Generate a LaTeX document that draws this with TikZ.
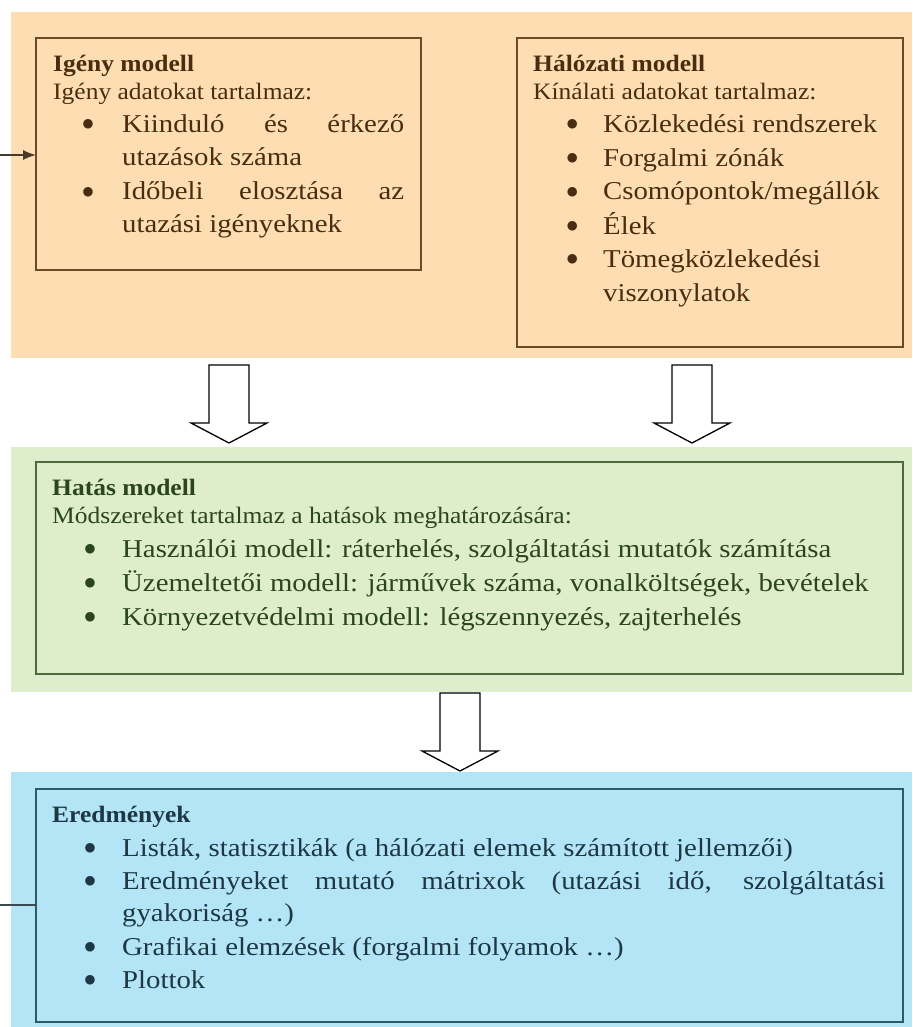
\documentclass[tikz,border=0pt]{standalone}
\usepackage{fontspec}
\setmainfont{Liberation Serif}
\newfontfamily\headfont{Liberation Serif}[FakeStretch=1.085]
\newfontfamily\bodyfont{Liberation Serif}[FakeStretch=1.12]
\newfontfamily\dotfont{DejaVu Sans}
\usetikzlibrary{arrows.meta}

\definecolor{orangeband}{HTML}{FDDEB2}
\definecolor{orangeline}{HTML}{6E4A24}
\definecolor{orangetext}{HTML}{4A2C10}
\definecolor{greenband}{HTML}{DEEDCB}
\definecolor{greenline}{HTML}{4D6A3B}
\definecolor{greentext}{HTML}{2A4520}
\definecolor{blueband}{HTML}{B3E5F6}
\definecolor{blueline}{HTML}{2D5A6A}
\definecolor{bluetext}{HTML}{1D3744}
\definecolor{inarrow}{HTML}{4A3A2A}
\definecolor{inline}{HTML}{3A4A52}

% round bullet hanging to the left of an item's first line, #1 = distance
% from the bullet's centre to the start of the text
\newcommand\bul[1]{\llap{\makebox[0pt]{\raisebox{5pt}{\dotfont\fontsize{12.5}{12.5}\selectfont ●}}\hspace{#1}}}

\begin{document}
\begin{tikzpicture}[x=1pt,y=-1pt,
  band/.style={anchor=north west, inner sep=0pt, outer sep=0pt, draw=none},
  framebox/.style={anchor=north west, inner sep=0pt, outer sep=0pt, draw, line width=1.5pt},
  txt/.style={anchor=base west, inner sep=0pt},
  hd/.style={txt, font=\fontsize{23.5}{28}\headfont\bfseries},
  intro/.style={txt, font=\fontsize{23.5}{28}\headfont},
  itm/.style={txt, font=\fontsize{25.7}{33}\bodyfont},
  blockarrow/.pic={
    \draw[line width=1.3pt, fill=white, line join=miter]
      (-20,0) -- (-20,58) -- (-38,58) -- (0,78) -- (38,58) -- (20,58) -- (20,0) -- cycle;
  }]
\useasboundingbox (0,0) rectangle (912,1027);

% coloured bands
\node[band, fill=orangeband, minimum width=901pt, minimum height=346pt] (topband) at (11,12) {};
\node[band, fill=greenband, minimum width=901pt, minimum height=245pt] (midband) at (11,447) {};
\node[band, fill=blueband, minimum width=901pt, minimum height=255pt] (botband) at (11,772) {};

% framed boxes
\node[framebox, draw=orangeline, minimum width=385pt, minimum height=232pt] (demand) at (36,38) {};
\node[framebox, draw=orangeline, minimum width=386pt, minimum height=309pt] (network) at (517,38) {};
\node[framebox, draw=greenline, minimum width=867pt, minimum height=212pt] (impact) at (36,462) {};
\node[framebox, draw=blueline, minimum width=867pt, minimum height=233pt] (results) at (36,789) {};

% incoming lines on the left
\coordinate (demandin) at (0,155);
\draw[line width=1.3pt, inarrow, -{Latex[length=13pt,width=10pt]}] (demandin) -- (demandin -| demand.west);
\coordinate (resultsin) at (0,905);
\draw[line width=1.5pt, inline] (resultsin) -- (resultsin -| results.west);

% hollow block arrows between the stages
\pic (arrowdemand) at (229,365) {blockarrow};
\pic (arrownetwork) at (692,365) {blockarrow};
\pic (arrowimpact) at (460,693) {blockarrow};

% demand model
\begin{scope}[orangetext]
\node[hd] (demandtitle) at (53,72) {Igény modell};
\node[intro] (demandintro) at (53,100) {Igény adatokat tartalmaz:};
\node[itm] (demanda1) at (122,133) {\bul{34pt}\makebox[282pt][s]{Kiinduló és érkező}};
\node[itm] (demanda2) at (122,166) {utazások száma};
\node[itm] (demandb1) at (122,200) {\bul{34pt}\makebox[282pt][s]{Időbeli elosztása az}};
\node[itm] (demandb2) at (122,232) {utazási igényeknek};

% network model
\node[hd] (nettitle) at (533,72) {Hálózati modell};
\node[intro] (netintro) at (533,100) {Kínálati adatokat tartalmaz:};
\node[itm] (neta) at (603,133) {\bul{31pt}Közlekedési rendszerek};
\node[itm] (netb) at (603,167) {\bul{31pt}Forgalmi zónák};
\node[itm] (netc) at (603,200) {\bul{31pt}Csomópontok/megállók};
\node[itm] (netd) at (603,234) {\bul{31pt}Élek};
\node[itm] (nete1) at (603,267) {\bul{31pt}Tömegközlekedési};
\node[itm] (nete2) at (603,301) {viszonylatok};
\end{scope}

% impact model
\begin{scope}[greentext]
\node[hd] (imptitle) at (52,495) {Hatás modell};
\node[intro] (impintro) at (52,523) {Módszereket tartalmaz a hatások meghatározására:};
\node[itm] (impa) at (122,557) {\bul{32pt}Használói modell: ráterhelés, szolgáltatási mutatók számítása};
\node[itm] (impb) at (122,591) {\bul{32pt}Üzemeltetői modell: járművek száma, vonalköltségek, bevételek};
\node[itm] (impc) at (122,625) {\bul{32pt}Környezetvédelmi modell: légszennyezés, zajterhelés};
\end{scope}

% results
\begin{scope}[bluetext]
\node[hd] (restitle) at (52,822) {Eredmények};
\node[itm] (resa) at (122,856) {\bul{32pt}Listák, statisztikák (a hálózati elemek számított jellemzői)};
\node[itm] (resb1) at (122,889) {\bul{32pt}\makebox[763pt][s]{Eredményeket mutató mátrixok (utazási idő, szolgáltatási}};
\node[itm] (resb2) at (122,921) {gyakoriság …)};
\node[itm] (resc) at (122,955) {\bul{32pt}Grafikai elemzések (forgalmi folyamok …)};
\node[itm] (resd) at (122,988) {\bul{32pt}Plottok};
\end{scope}
\end{tikzpicture}
\end{document}
